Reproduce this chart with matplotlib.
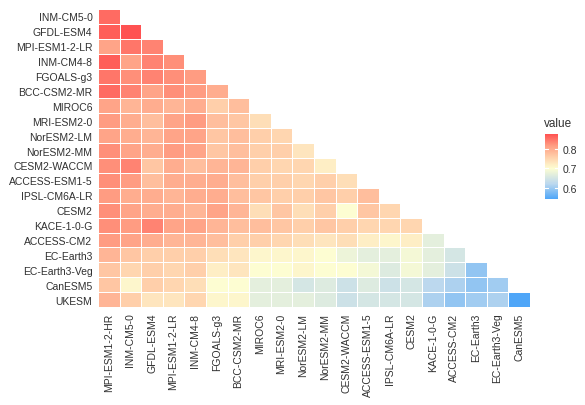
import numpy as np
import matplotlib.pyplot as plt
from matplotlib.colors import LinearSegmentedColormap

plt.rcParams['font.family'] = ['Liberation Sans', 'DejaVu Sans']

row_labels = ["INM-CM5-0", "GFDL-ESM4", "MPI-ESM1-2-LR", "INM-CM4-8", "FGOALS-g3",
              "BCC-CSM2-MR", "MIROC6", "MRI-ESM2-0", "NorESM2-LM", "NorESM2-MM",
              "CESM2-WACCM", "ACCESS-ESM1-5", "IPSL-CM6A-LR", "CESM2", "KACE-1-0-G",
              "ACCESS-CM2", "EC-Earth3", "EC-Earth3-Veg", "CanESM5", "UKESM"]
col_labels = ["MPI-ESM1-2-HR", "INM-CM5-0", "GFDL-ESM4", "MPI-ESM1-2-LR", "INM-CM4-8",
              "FGOALS-g3", "BCC-CSM2-MR", "MIROC6", "MRI-ESM2-0", "NorESM2-LM",
              "NorESM2-MM", "CESM2-WACCM", "ACCESS-ESM1-5", "IPSL-CM6A-LR", "CESM2",
              "KACE-1-0-G", "ACCESS-CM2", "EC-Earth3", "EC-Earth3-Veg", "CanESM5"]

# lower triangle, one list per row (top to bottom)
corr = [
    [0.86],
    [0.87, 0.88],
    [0.81, 0.85, 0.84],
    [0.87, 0.81, 0.84, 0.83],
    [0.85, 0.83, 0.84, 0.83, 0.82],
    [0.86, 0.84, 0.81, 0.83, 0.82, 0.80],
    [0.81, 0.79, 0.80, 0.79, 0.80, 0.76, 0.78],
    [0.82, 0.80, 0.78, 0.81, 0.82, 0.78, 0.77, 0.74],
    [0.81, 0.80, 0.79, 0.81, 0.81, 0.77, 0.78, 0.76, 0.75],
    [0.83, 0.81, 0.80, 0.82, 0.81, 0.77, 0.78, 0.76, 0.76, 0.73],
    [0.83, 0.84, 0.77, 0.80, 0.78, 0.79, 0.79, 0.76, 0.75, 0.75, 0.72],
    [0.83, 0.82, 0.78, 0.80, 0.80, 0.80, 0.78, 0.76, 0.76, 0.75, 0.76, 0.74],
    [0.82, 0.80, 0.80, 0.79, 0.80, 0.80, 0.78, 0.77, 0.76, 0.76, 0.77, 0.76, 0.78],
    [0.83, 0.81, 0.80, 0.80, 0.79, 0.81, 0.79, 0.74, 0.77, 0.74, 0.76, 0.70, 0.77, 0.75],
    [0.83, 0.82, 0.84, 0.81, 0.81, 0.79, 0.78, 0.78, 0.77, 0.76, 0.77, 0.76, 0.75, 0.75, 0.75],
    [0.82, 0.81, 0.80, 0.79, 0.79, 0.78, 0.76, 0.76, 0.75, 0.74, 0.73, 0.74, 0.72, 0.71, 0.72, 0.67],
    [0.79, 0.77, 0.76, 0.76, 0.76, 0.74, 0.73, 0.71, 0.71, 0.71, 0.70, 0.68, 0.67, 0.67, 0.69, 0.67, 0.65],
    [0.77, 0.75, 0.76, 0.75, 0.76, 0.72, 0.73, 0.70, 0.70, 0.71, 0.70, 0.70, 0.69, 0.66, 0.69, 0.67, 0.64, 0.59],
    [0.77, 0.71, 0.76, 0.75, 0.74, 0.70, 0.70, 0.67, 0.67, 0.65, 0.66, 0.64, 0.66, 0.64, 0.65, 0.62, 0.61, 0.59, 0.60],
    [0.79, 0.76, 0.73, 0.73, 0.75, 0.71, 0.71, 0.67, 0.67, 0.67, 0.66, 0.64, 0.65, 0.65, 0.65, 0.61, 0.59, 0.60, 0.61, 0.54],
]

n = len(row_labels)
grid = np.full((n, n), np.nan)
for i, vals in enumerate(corr):
    grid[i, :len(vals)] = vals
data = np.ma.masked_invalid(grid)

vmin, vmax = 0.54, 0.88


def pos(v):
    return (v - vmin) / (vmax - vmin)


cmap = LinearSegmentedColormap.from_list(
    "rb", [(0, "#4FA6F8"), (pos(0.62), "#BCD8EE"), (pos(0.70), "#FDFDD2"),
           (pos(0.76), "#FFCFAA"), (pos(0.82), "#FF9C82"), (1, "#FF5252")])

fig = plt.figure(figsize=(5.85, 4.06), dpi=100)
ax = fig.add_axes([98 / 585, 98 / 406, 432 / 585, 298 / 406])
mesh = ax.pcolormesh(data, cmap=cmap, vmin=vmin, vmax=vmax,
                     edgecolors="white", linewidth=0.6)
ax.set_xlim(0, n)
ax.set_ylim(n, 0)
ax.set_xticks(np.arange(n) + 0.5)
ax.set_xticklabels(col_labels, rotation=90, fontsize=7.5, color="#303030")
ax.set_yticks(np.arange(n) + 0.5)
ax.set_yticklabels(row_labels, fontsize=7.5, color="#303030")
ax.tick_params(length=0, pad=4)
for s in ax.spines.values():
    s.set_visible(False)

cax = fig.add_axes([545 / 585, 206 / 406, 13 / 585, 65 / 406])
cb = fig.colorbar(mesh, cax=cax, ticks=[0.6, 0.7, 0.8])
cb.outline.set_visible(False)
cax.tick_params(length=0, labelsize=7.5, colors="#303030", pad=3)
for t in [0.6, 0.7, 0.8]:
    cax.axhline(t, xmin=0, xmax=0.2, color="white", lw=0.8)
    cax.axhline(t, xmin=0.8, xmax=1, color="white", lw=0.8)
fig.text(544 / 585, 1 - 124 / 406, "value", fontsize=8.5, va="center", color="#303030")

plt.savefig("out.png", dpi=100)
